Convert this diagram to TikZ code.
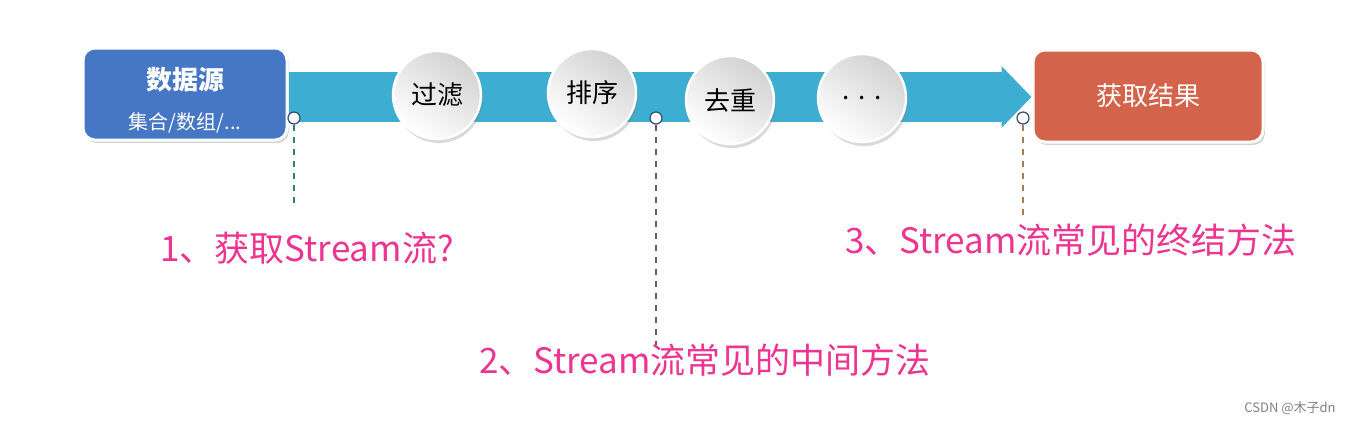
\documentclass[tikz,border=0pt]{standalone}
\usepackage{fontspec}
\setmainfont{Noto Sans CJK SC}
\usepackage{tikz}
\usetikzlibrary{arrows.meta,positioning,shadows}
\definecolor{srcblue}{HTML}{4577C5}
\definecolor{resred}{HTML}{D3644B}
\definecolor{bandteal}{HTML}{3DAED2}
\definecolor{pinktxt}{HTML}{EC3490}
\definecolor{pinnavy}{HTML}{2F4B7C}
\begin{document}
\begin{tikzpicture}[x=0.5pt,y=-0.5pt,
  box/.style={rounded corners=6pt,draw=white,line width=1.5pt,text=white,
    minimum height=46pt,align=center,drop shadow={opacity=0.35,shadow xshift=1pt,shadow yshift=-1.5pt}},
  stepball/.style={circle,minimum size=44pt,draw=white,line width=1.2pt,
    top color=gray!35,bottom color=white,shading angle=-35,
    drop shadow={opacity=0.3,shadow xshift=1pt,shadow yshift=-2pt},font=\fontsize{13}{15}\selectfont},
  pin/.style={circle,draw=pinnavy,fill=white,line width=0.6pt,inner sep=0pt,minimum size=6pt},
  hint/.style={text=pinktxt,font=\fontsize{17.5}{20}\selectfont}]
\useasboundingbox (0,0) rectangle (1352,424);
\node[box,fill=srcblue,minimum width=102pt] (src) at (185,94) {};
\node[text=white,align=center] (srctxt) at ([yshift=-3pt]src.center)
  {{\bfseries\fontsize{13}{15}\selectfont 数据源}\\[8pt]{\fontsize{10}{12}\selectfont 集合/数组/...}};
\node[box,fill=resred,minimum width=115pt,font=\fontsize{13}{15}\selectfont] (res) at (1148,96) {获取结果};
\draw[bandteal,line width=25pt,-{Triangle[length=15pt,width=30pt]}] ([yshift=-1.5pt]src.east) -- ([yshift=-1.5pt]src.east -| res.west);
\node[stepball] (flt) at (437,95) {过滤};
\node[stepball] (srt) at (592,93) {排序};
\node[stepball] (dst) at (730,100) {去重};
\node[stepball] (etc) at (862,98) {.\,\,.\,\,.};
\node[pin] (p1) at (294,118) {}; \node[pin] (p2) at (656,118) {}; \node[pin] (p3) at (1023,118) {};
\coordinate (e1) at (294,203); \coordinate (e2) at (656,345); \coordinate (e3) at (1023,215);
\draw[dashed,line width=0.6pt,teal!60!gray] (p1) -- (e1);
\draw[dashed,line width=0.6pt,violet!40!gray] (p2) -- (e2);
\draw[dashed,line width=0.6pt,brown!60!gray] (p3) -- (e3);
\node[hint] (h1) at (307,248) {1、获取Stream流?};
\node[hint] (h2) at (705,360) {2、Stream流常见的中间方法};
\node[hint] (h3) at (1071,240) {3、Stream流常见的终结方法};
\node[text=gray,font=\fontsize{6.5}{8}\selectfont] (mark) at (1290,408) {CSDN @木子dn};
\end{tikzpicture}
\end{document}
